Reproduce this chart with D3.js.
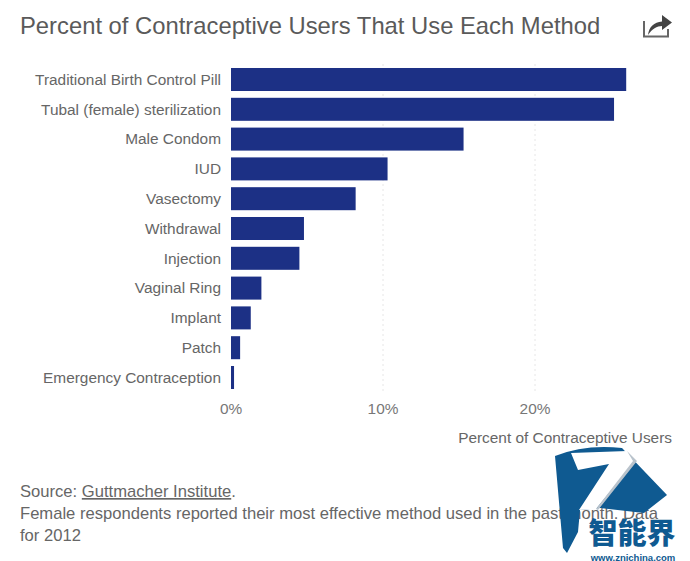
<!DOCTYPE html>
<html><head><meta charset="utf-8">
<script src="https://cdn.jsdelivr.net/npm/d3@7/dist/d3.min.js"></script>
<style>html,body{margin:0;padding:0;background:#fff}svg{display:block}text{font-family:"Liberation Sans",Arial,sans-serif}</style>
</head><body><svg id="c" width="690" height="561"></svg>
<script>
const categories=["Traditional Birth Control Pill","Tubal (female) sterilization","Male Condom","IUD","Vasectomy","Withdrawal","Injection","Vaginal Ring","Implant","Patch","Emergency Contraception"];
const values=[26.0,25.2,15.3,10.3,8.2,4.8,4.5,2.0,1.3,0.6,0.2];
const tickValues=[0,10,20];
const svg=d3.select("#c");
const x=d3.scaleLinear().domain([0,29]).range([231,671.8]);
const y=d3.scaleBand().domain(categories).range([64.6,392.4]).paddingInner(0.228).paddingOuter(0.114);
svg.append("text").attr("x",20).attr("y",34).attr("font-size",23.8).attr("fill","#5a5a5a").text("Percent of Contraceptive Users That Use Each Method");
// share icon
const ic=svg.append("g").attr("fill","none");
ic.append("path").attr("d","M644 21V36.5H668V29").attr("stroke","#666").attr("stroke-width",2);
ic.append("path").attr("d","M648 35C649 27 654 22 662 21.5V15L672 22.5L662 30V26C657 26 652 29 648 35Z").attr("fill","#444");
// grid
svg.append("g").selectAll("line").data(tickValues.slice(1)).join("line")
 .attr("x1",d=>x(d)).attr("x2",d=>x(d)).attr("y1",64).attr("y2",392)
 .attr("stroke","#e6e6e6").attr("stroke-dasharray","2,3");
svg.append("g").selectAll("rect").data(values).join("rect")
 .attr("x",x(0)).attr("y",(d,i)=>y(categories[i])).attr("width",d=>x(d)-x(0)).attr("height",y.bandwidth()).attr("fill","#1c3085");
svg.append("g").selectAll("text").data(categories).join("text")
 .attr("x",221).attr("y",d=>y(d)+y.bandwidth()/2+5.2).attr("text-anchor","end").attr("font-size",15.4).attr("fill","#666").text(d=>d);
svg.append("g").selectAll("text").data(tickValues).join("text")
 .attr("x",d=>x(d)).attr("y",414).attr("text-anchor","middle").attr("font-size",15.4).attr("fill","#777").text(d=>d+"%");
svg.append("text").attr("x",672).attr("y",443).attr("text-anchor","end").attr("font-size",15.4).attr("fill","#666").text("Percent of Contraceptive Users");
const src=svg.append("text").attr("x",20).attr("y",497).attr("font-size",16.6).attr("fill","#666");
src.append("tspan").text("Source: ");
src.append("tspan").attr("text-decoration","underline").text("Guttmacher Institute");
src.append("tspan").text(".");
svg.append("text").attr("x",20).attr("y",519).attr("font-size",16.6).attr("fill","#666").text("Female respondents reported their most effective method used in the past month. Data");
svg.append("text").attr("x",20).attr("y",541).attr("font-size",16.6).attr("fill","#666").text("for 2012");
// watermark
const w=svg.append("g");
w.append("path").attr("d","M555 456Q585 444 622 448L667 495L644 513L600 508L580 510L578 532L567 553L563 548Z").attr("fill","#0f5a91");
w.append("path").attr("d","M571 453L627 451L635 461L596 509L579 510L609 464L578 470Z").attr("fill","#fff");
w.append("path").attr("d","M627 451L637 461L598 510L596 509L633 461Z").attr("fill","#b9c3cc");
w.append("text").attr("x",632).attr("y",544).attr("text-anchor","middle").attr("font-size",29).attr("font-weight",900).attr("fill","#0f5a91").attr("style",'font-family:"Noto Sans CJK SC"').text("智能界");
w.append("text").attr("x",633).attr("y",560.5).attr("text-anchor","middle").attr("font-size",9.5).attr("font-weight",700).attr("fill","#0f5a91").text("www.znjchina.com");
</script></body></html>
